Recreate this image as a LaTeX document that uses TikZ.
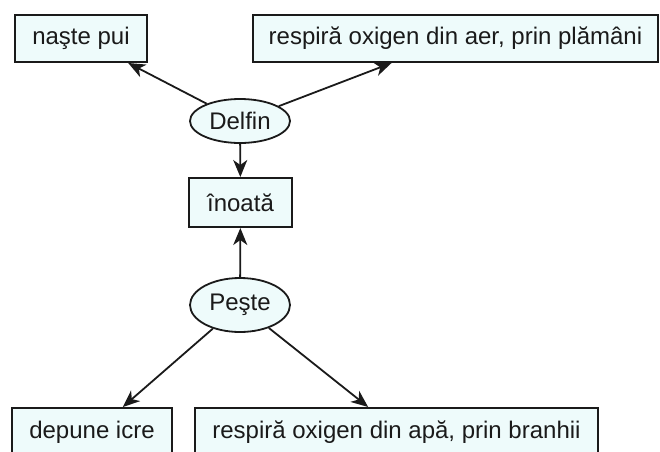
\documentclass[tikz,border=0pt]{standalone}
\usepackage{fontspec}
\setmainfont{Liberation Sans}
\usetikzlibrary{arrows.meta,shapes.geometric,calc}
\definecolor{boxfill}{HTML}{EEFBFB}
\definecolor{ink}{HTML}{1A1A1A}
\begin{document}
\begin{tikzpicture}[x=0.5pt,y=-0.5pt,
  fact/.style={draw=ink,fill=boxfill,line width=1pt,rectangle,inner sep=0pt,
    font=\fontsize{12}{14}\selectfont,text=ink},
  lowfact/.style={fact,anchor=north,text height=12pt,text depth=12pt,inner ysep=3pt},
  animal/.style={draw=ink,fill=boxfill,line width=0.9pt,ellipse,inner sep=0pt,
    font=\fontsize{12}{14}\selectfont,text=ink},
  link/.style={draw=ink,line width=0.9pt,-{Stealth[length=8.5pt,width=7pt,inset=2.5pt]}}]
\useasboundingbox (0,0) rectangle (660,451);

% facts about the dolphin
\node[fact,minimum width=66pt,minimum height=23.5pt] (pui) at (81,38.5) {naşte pui};
\node[fact,minimum width=202.5pt,minimum height=23.5pt] (plamani) at (455.5,38.5) {respiră oxigen din aer, prin plămâni};
\node[animal,minimum width=50pt,minimum height=22pt] (delfin) at (240,121) {Delfin};

% shared trait
\node[fact,minimum width=51.5pt,minimum height=24.5pt] (inoata) at (240.5,202.5) {înoată};

% facts about the fish (running past the lower edge)
\node[animal,minimum width=50pt,minimum height=27pt] (peste) at (240,305) {Peşte};
\node[lowfact,minimum width=80pt] (icre) at (92,407) {depune icre};
\node[lowfact,minimum width=201.5pt] (branhii) at (396.5,407) {respiră oxigen din apă, prin branhii};

\draw[link] (delfin) -- (pui);
\draw[link] (delfin) -- (plamani);
\draw[link] (delfin) -- (inoata);
\draw[link] (peste) -- (inoata);
\draw[link] (peste) -- ($(icre.north west)!0.69!(icre.north east)$);
\draw[link] (peste) -- ($(branhii.north west)!0.43!(branhii.north east)$);
\end{tikzpicture}
\end{document}
